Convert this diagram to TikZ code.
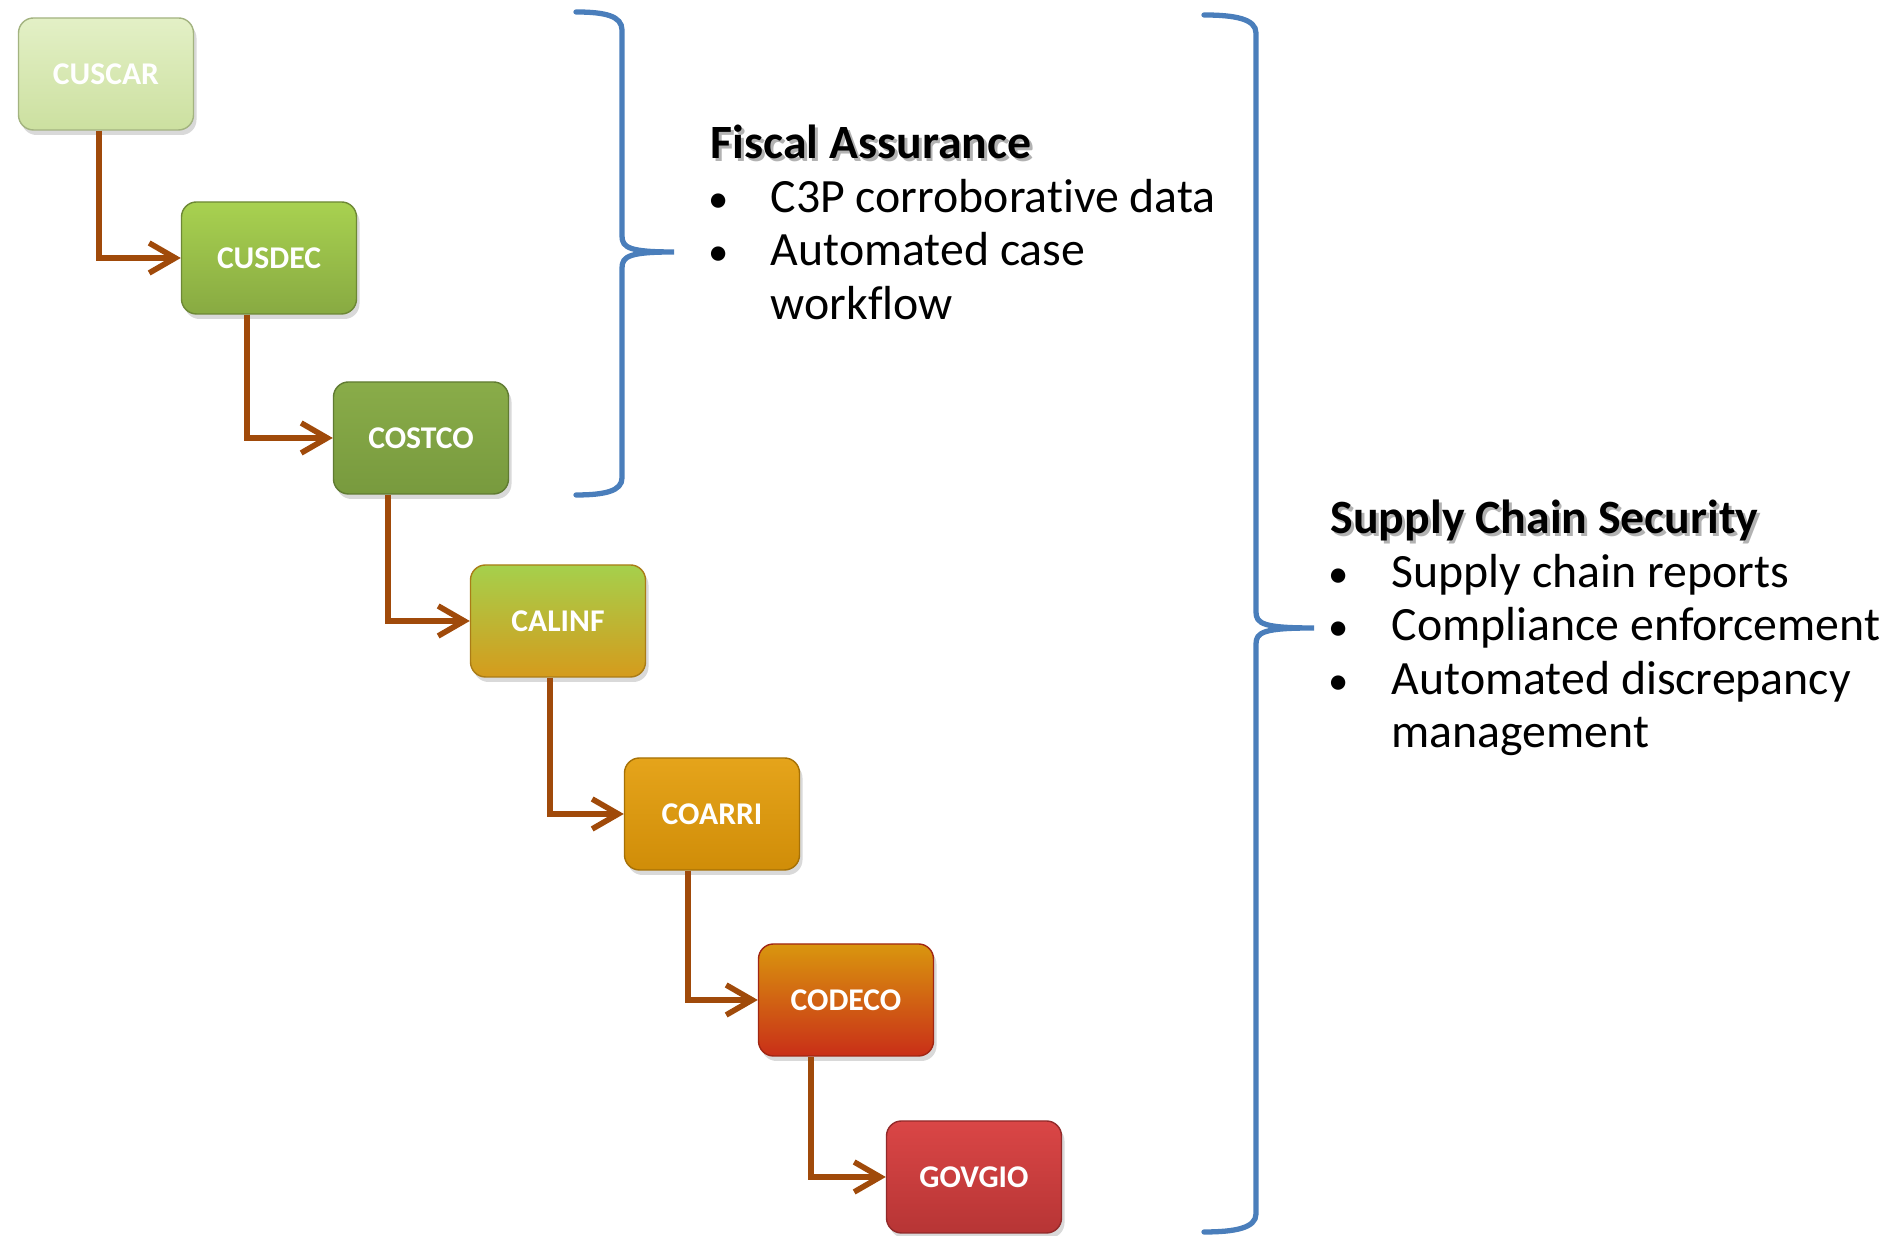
\documentclass[tikz,border=0pt]{standalone}
\usepackage{fontspec}
\setmainfont{Carlito}[Ligatures={NoCommon}]
\usepackage{tikz}
\usepackage{xcolor}
\usetikzlibrary{calc}
\usetikzlibrary{shadows}
\usetikzlibrary{positioning, arrows.meta}

\definecolor{flowbrown}{RGB}{160,74,10}
\definecolor{braceblue}{RGB}{74,126,187}
\definecolor{cuscartop}{RGB}{227,240,198}  \definecolor{cuscarbot}{RGB}{204,224,160}
\definecolor{cusdectop}{RGB}{168,209,80}   \definecolor{cusdecbot}{RGB}{136,170,66}
\definecolor{costcotop}{RGB}{137,172,73}   \definecolor{costcobot}{RGB}{120,154,62}
\definecolor{calinftop}{RGB}{165,208,76}   \definecolor{calinfbot}{RGB}{213,155,28}
\definecolor{coarritop}{RGB}{229,164,27}   \definecolor{coarribot}{RGB}{208,141,8}
\definecolor{codecotop}{RGB}{217,150,14}   \definecolor{codecobot}{RGB}{201,47,24}
\definecolor{govgiotop}{RGB}{218,70,70}    \definecolor{govgiobot}{RGB}{183,53,53}
\newcommand{\shadowed}[1]{\leavevmode\rlap{\hspace{0.8pt}\raisebox{-0.8pt}{\color{black!30}#1}}#1}
\newcommand{\dotitem}{\hspace{-0.5pt}\scalebox{0.85}{\textbullet}}

\begin{document}
\begin{tikzpicture}[
        msgbox/.style={rectangle, rounded corners=0.15cm, minimum width=1.75cm, minimum height=1.12cm,
            top color=#1top, bottom color=#1bot, draw=#1bot!80!black, line width=0.4pt,
            drop shadow={opacity=0.3, shadow xshift=0.03cm, shadow yshift=-0.05cm},
            text=white, font=\fontsize{9}{10}\selectfont\bfseries},
        flow/.style={draw=flowbrown, line width=1.6pt, -{Straight Barb[length=2.6mm, width=3mm]}},
        curly/.style={draw=braceblue, line width=1.5pt, line cap=round}]
    \useasboundingbox (0,0) rectangle (18.95,12.36);

    % message boxes
    \node [msgbox=cuscar] (cuscar) at (1.06,11.62) {CUSCAR};
    \node [msgbox=cusdec] (cusdec) at (2.69,9.78) {CUSDEC};
    \node [msgbox=costco] (costco) at (4.21,7.98) {COSTCO};
    \node [msgbox=calinf] (calinf) at (5.58,6.15) {CALINF};
    \node [msgbox=coarri] (coarri) at (7.12,4.22) {COARRI};
    \node [msgbox=codeco] (codeco) at (8.46,2.36) {CODECO};
    \node [msgbox=govgio] (govgio) at (9.74,0.59) {GOVGIO};

    % elbow connectors
    \foreach \from/\to/\dx in {cuscar/cusdec/-0.07, cusdec/costco/-0.22, costco/calinf/-0.33,
                               calinf/coarri/-0.08, coarri/codeco/-0.24, codeco/govgio/-0.35}
        \draw [flow] ($(\from.south)+(\dx,0)$) |- (\to.west);

    % braces
    \draw [curly] (5.76,12.24) .. controls (6.05,12.24) and (6.22,12.2) .. (6.22,12.06)
        -- (6.22,10.0) .. controls (6.22,9.88) and (6.3,9.84) .. (6.74,9.84)
        .. controls (6.3,9.84) and (6.22,9.8) .. (6.22,9.68)
        -- (6.22,7.58) .. controls (6.22,7.45) and (6.05,7.41) .. (5.76,7.41);
    \draw [curly] (12.04,12.21) .. controls (12.35,12.21) and (12.56,12.17) .. (12.56,12.03)
        -- (12.56,6.24) .. controls (12.56,6.12) and (12.64,6.08) .. (13.14,6.08)
        .. controls (12.64,6.08) and (12.56,6.04) .. (12.56,5.92)
        -- (12.56,0.22) .. controls (12.56,0.08) and (12.35,0.04) .. (12.04,0.04);

    % text blocks
    \node [anchor=base west, inner sep=0pt, font=\fontsize{13.6}{15.2}\selectfont] (fiscal) at (7.10,10.77) {%
        \begin{tabular}[t]{@{}p{0.6cm}@{}l@{}}
            \multicolumn{2}{@{}l@{}}{\shadowed{\textbf{Fiscal Assurance}}}\\
            \dotitem & C3P corroborative data\\
            \dotitem & Automated case\\
                     & workflow
        \end{tabular}};
    \node [anchor=base west, inner sep=0pt, font=\fontsize{13.6}{15.2}\selectfont] (supply) at (13.30,7.02) {%
        \begin{tabular}[t]{@{}p{0.61cm}@{}l@{}}
            \multicolumn{2}{@{}l@{}}{\shadowed{\textbf{Supply Chain Security}}}\\
            \dotitem & Supply chain reports\\
            \dotitem & Compliance enforcement\\
            \dotitem & Automated discrepancy\\
                     & management
        \end{tabular}};
\end{tikzpicture}
\end{document}
